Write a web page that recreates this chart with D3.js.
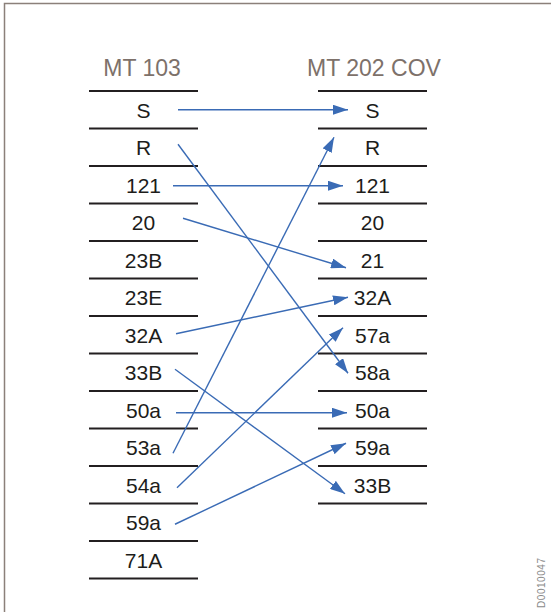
<!DOCTYPE html>
<html>
<head>
<meta charset="utf-8">
<script src="https://cdn.jsdelivr.net/npm/d3@7"></script>
<style>
  body { margin: 0; background: #fff; }
  svg { display: block; font-family: "Liberation Sans", Arial, sans-serif; }
</style>
</head>
<body>
<script>
// column titles and the fields listed under each one
const columns = ['MT 103', 'MT 202 COV'];
const mt103Fields = ['S', 'R', '121', '20', '23B', '23E', '32A', '33B', '50a', '53a', '54a', '59a', '71A'];
const mt202Fields = ['S', 'R', '121', '20', '21', '32A', '57a', '58a', '50a', '59a', '33B'];

// field mapping MT 103 -> MT 202 COV
const mappings = [
    ['S', 'S'],
    ['R', '58a'],
    ['121', '121'],
    ['20', '21'],
    ['32A', '32A'],
    ['33B', '33B'],
    ['50a', '50a'],
    ['53a', 'R'],
    ['54a', '57a'],
    ['59a', '59a']
];

const docId = 'D0010047';

const svgValues = {
    width: 551,
    height: 612,
    padding: { top: 91, left: 89, right: 124 },
    rowStep: 37.5
};

// small hand adjustments of arrow ends: [dxStart, dyStart, dxEnd, dyEnd]
const arrowNudge = [
    [2, 0, 2, 0],
    [2, -3, 2, 1],
    [-3, 1, -3, 1],
    [7, -4, 0, 8],
    [0, -1, 2, 0],
    [-1, -3, -1, 9],
    [0, 3, 1, 3],
    [-3, 6, -12, -10],
    [1, 3, -3, -7],
    [-1, 2, 0, -4]
];

const svg = d3.select('body')
    .append('svg')
    .attr('width', svgValues.width)
    .attr('height', svgValues.height);

svg.append('rect')
    .attr('width', svgValues.width)
    .attr('height', svgValues.height)
    .attr('fill', '#fff');

// frame (left and top edges only)
svg.append('path')
    .attr('d', 'M4.5,' + svgValues.height + 'V3.5H' + svgValues.width)
    .attr('fill', 'none')
    .attr('stroke', '#8b807a')
    .attr('stroke-width', 1.5);

const xScale = d3.scaleBand()
    .domain(columns)
    .range([svgValues.padding.left, svgValues.width - svgValues.padding.right])
    .paddingInner(120 / 229);

const yScale = d3.scaleLinear()
    .domain([0, 1])
    .range([svgValues.padding.top, svgValues.padding.top + svgValues.rowStep]);

const fieldsByColumn = [mt103Fields, mt202Fields];

columns.forEach(function(col, ci) {
    const fields = fieldsByColumn[ci];
    const x0 = xScale(col);
    const bw = xScale.bandwidth();
    const g = svg.append('g');

    g.append('text')
        .text(col)
        .attr('x', x0 + bw / 2 + (ci ? 1.5 : -1.5))
        .attr('y', 76)
        .attr('text-anchor', 'middle')
        .attr('font-size', 23)
        .attr('fill', '#7d716a');

    g.selectAll('line')
        .data(d3.range(fields.length + 1))
        .enter()
        .append('line')
        .attr('x1', x0)
        .attr('x2', x0 + bw)
        .attr('y1', d => yScale(d))
        .attr('y2', d => yScale(d))
        .attr('stroke', '#231f20')
        .attr('stroke-width', 2);

    g.selectAll('text.field')
        .data(fields)
        .enter()
        .append('text')
        .attr('class', 'field')
        .text(d => d)
        .attr('x', x0 + bw / 2)
        .attr('y', (d, i) => yScale(i + 0.5) + 8)
        .attr('text-anchor', 'middle')
        .attr('font-size', 21)
        .attr('fill', '#1d1d1b');
});

// arrow head
svg.append('defs')
    .append('marker')
    .attr('id', 'head')
    .attr('markerUnits', 'userSpaceOnUse')
    .attr('viewBox', '0 -5 15 10')
    .attr('refX', 15)
    .attr('refY', 0)
    .attr('markerWidth', 15)
    .attr('markerHeight', 10)
    .attr('orient', 'auto')
    .append('path')
    .attr('d', 'M0,-5L15,0L0,5Z')
    .attr('fill', '#3a6bb5');

const startX = xScale(columns[0]) + xScale.bandwidth() - 22;
const endX = xScale(columns[1]) + 28;

svg.append('g')
    .selectAll('line')
    .data(mappings)
    .enter()
    .append('line')
    .attr('x1', (d, i) => startX + arrowNudge[i][0])
    .attr('y1', (d, i) => yScale(mt103Fields.indexOf(d[0]) + 0.5) + arrowNudge[i][1])
    .attr('x2', (d, i) => endX + arrowNudge[i][2])
    .attr('y2', (d, i) => yScale(mt202Fields.indexOf(d[1]) + 0.5) + arrowNudge[i][3])
    .attr('stroke', '#3a6bb5')
    .attr('stroke-width', 1.4)
    .attr('marker-end', 'url(#head)');

// document id, rotated at the right edge
svg.append('text')
    .text(docId)
    .attr('transform', 'translate(545,608) rotate(-90)')
    .attr('font-size', 10)
    .attr('textLength', 50)
    .attr('fill', '#8a8a8a');
</script>
</body>
</html>
